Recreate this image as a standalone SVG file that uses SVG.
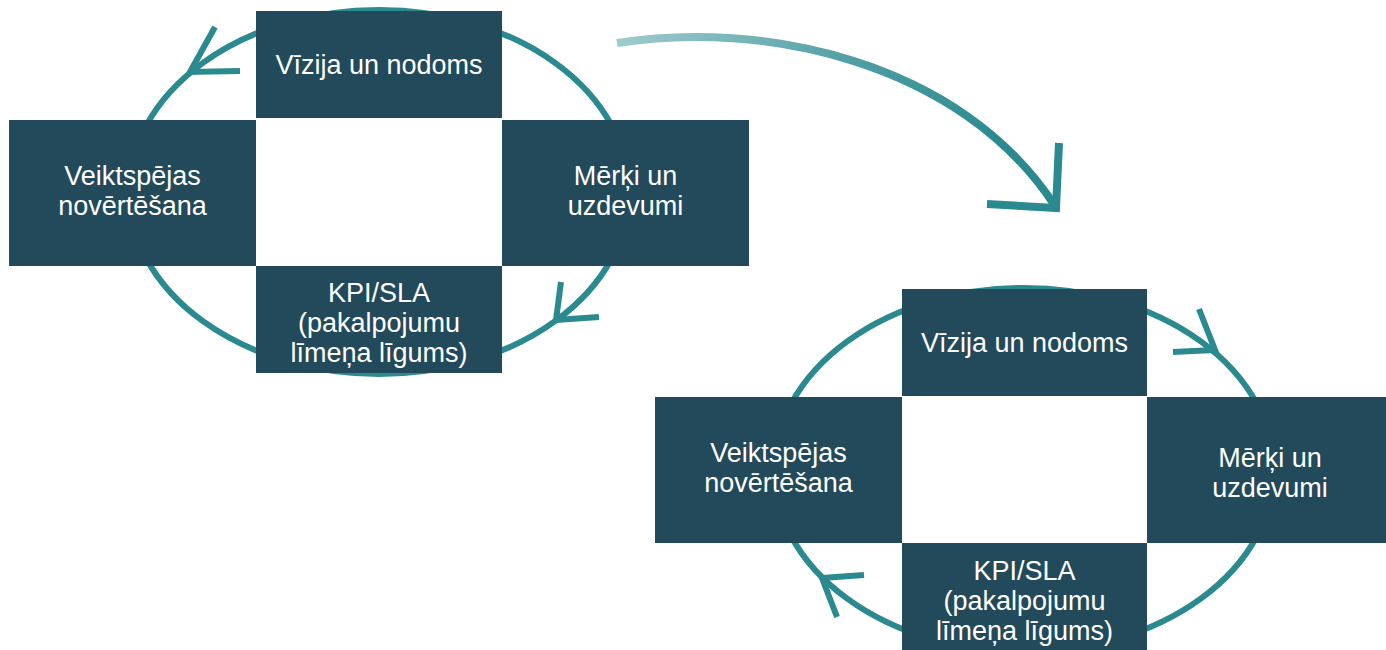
<svg xmlns="http://www.w3.org/2000/svg" width="1386" height="650" viewBox="0 0 1386 650">
<style>
.box{fill:#234a5b}
.lbl{fill:#ffffff;font-family:"Liberation Sans",Arial,sans-serif;font-size:27px;text-anchor:middle}
.ring{fill:none;stroke:#2a8a8f;stroke-width:6}
.head{fill:none;stroke:#2a8a8f;stroke-width:6;stroke-linecap:butt;stroke-linejoin:miter}
</style>
<defs>
<linearGradient id="g" gradientUnits="userSpaceOnUse" x1="617" y1="40" x2="1000" y2="150">
<stop offset="0" stop-color="#9fcbce"/>
<stop offset="0.6" stop-color="#4e9ea2"/>
<stop offset="1" stop-color="#2a8a8f"/>
</linearGradient>
</defs>
<rect width="1386" height="650" fill="#ffffff"/>
<g id="connectors">
<ellipse class="ring" cx="379" cy="192" rx="250" ry="182"/>
<ellipse class="ring" cx="1024" cy="470" rx="250" ry="182"/>
<polyline class="head" points="215,27 190,72 240,71"/>
<polyline class="head" points="561,282 556,320 599,317"/>
<polyline class="head" points="1199,309 1215,350 1173,352"/>
<polyline class="head" points="864,575 822,578 837,617"/>
<path d="M617,43 C760,20 960,60 1055,206" fill="none" stroke="url(#g)" stroke-width="8"/>
<polyline points="1059,143 1056,208 987,204" fill="none" stroke="#2a8a8f" stroke-width="8" stroke-linejoin="miter"/>
</g>
<g id="left-vision"><rect class="box" x="256" y="11" width="246" height="107"/><text class="lbl" x="379" y="74">Vīzija un nodoms</text></g>
<g id="left-perf"><rect class="box" x="9" y="120" width="247" height="146"/><text class="lbl" x="132.5" y="185">Veiktspējas</text><text class="lbl" x="132.5" y="215">novērtēšana</text></g>
<g id="left-goals"><rect class="box" x="502" y="120" width="247" height="146"/><text class="lbl" x="625.5" y="185">Mērķi un</text><text class="lbl" x="625.5" y="215">uzdevumi</text></g>
<g id="left-kpi"><rect class="box" x="256" y="266" width="246" height="107"/><text class="lbl" x="379" y="302">KPI/SLA</text><text class="lbl" x="379" y="332">(pakalpojumu</text><text class="lbl" x="379" y="362">līmeņa līgums)</text></g>
<g id="right-vision"><rect class="box" x="902" y="289" width="245" height="107"/><text class="lbl" x="1024.5" y="352">Vīzija un nodoms</text></g>
<g id="right-perf"><rect class="box" x="655" y="397" width="247" height="146"/><text class="lbl" x="778.5" y="462">Veiktspējas</text><text class="lbl" x="778.5" y="492">novērtēšana</text></g>
<g id="right-goals"><rect class="box" x="1147" y="397" width="247" height="146"/><text class="lbl" x="1270" y="467">Mērķi un</text><text class="lbl" x="1270" y="497">uzdevumi</text></g>
<g id="right-kpi"><rect class="box" x="902" y="543" width="245" height="108"/><text class="lbl" x="1024.5" y="580">KPI/SLA</text><text class="lbl" x="1024.5" y="610">(pakalpojumu</text><text class="lbl" x="1024.5" y="640">līmeņa līgums)</text></g>
</svg>
